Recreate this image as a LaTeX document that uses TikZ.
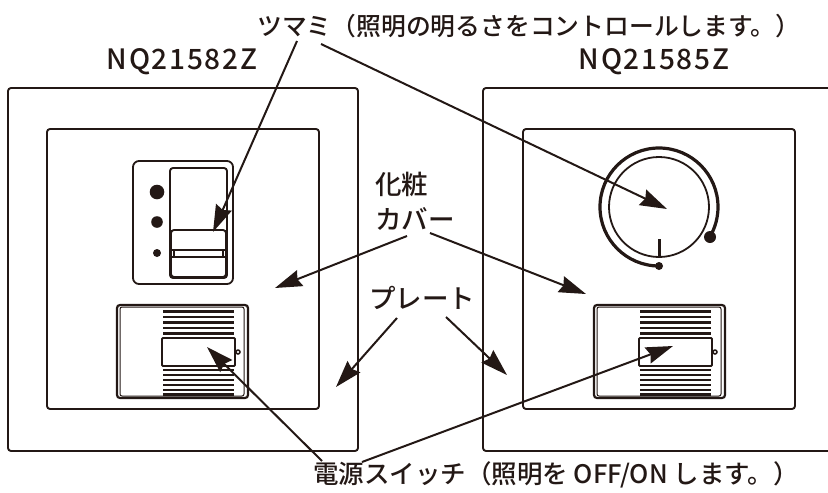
\documentclass[tikz,border=0pt]{standalone}
\usepackage{xcolor}
\usepackage{fontspec}
\usepackage{tikz}
\usetikzlibrary{arrows.meta}
\setmainfont{Noto Sans CJK JP Medium}
\definecolor{inkblack}{HTML}{231815}

\begin{document}
\begin{tikzpicture}[x=1pt, y=-1pt, inkblack,
    outline/.style={draw=inkblack, line width=1.9pt, rounded corners=3pt},
    pointer/.style={draw=inkblack, line width=2pt, -{Stealth[length=27pt, width=17pt, inset=3pt]}},
    callout/.style={inner sep=0pt, text=inkblack, font=\fontsize{26.5}{28}\selectfont},
    model/.style={inner sep=0pt, text=inkblack, font=\fontsize{28}{28}\selectfont\addfontfeatures{LetterSpace=6}}]
    \useasboundingbox (0,0) rectangle (828,493);

    % Plates
    \draw[outline] (8,88) rectangle (358,451);
    \draw[outline] (828,88) -- (483,88) -- (483,451) -- (828,451);
    \draw[outline] (47,129) rectangle (319,409);
    \draw[outline] (523,129) rectangle (795,409);

    % Slider unit
    \draw[outline, line width=1.8pt, rounded corners=6pt] (133,161) rectangle (233,284);
    \draw[outline, rounded corners=3pt] (170,168) rectangle (227,278);
    \draw[outline, rounded corners=3pt] (171,230) rectangle (226,277);
    \fill (157,192) circle (7.3);
    \fill (157,222) circle (5.8);
    \fill (157,253) circle (4);
    \draw[line width=2.6pt] (171,250) -- (226,250);
    \draw[line width=1.5pt] (171,257) -- (226,257);
    \draw[line width=1.5pt] (174,250) -- (174,257);
    \draw[line width=1.5pt] (223,250) -- (223,257);

    % Dial
    \draw[line width=1.8pt] (659,207) circle (50);
    \draw[line width=3.2pt] (659,266) arc[start angle=90, end angle=390, radius=59];
    \draw[line width=3pt] (659,239) -- (659,258);
    \fill (659,266) circle (4);
    \fill (710,237) circle (6);

    % Switches
    \foreach \swx in {0,477} {
        \draw[outline, line width=2.2pt] (117+\swx,305) rectangle (248+\swx,398);
        \draw[line width=1pt, rounded corners=2pt] (120+\swx,307) rectangle (244+\swx,396);
        \foreach \ly in {311.5,317,322.5,328,333.5,370,375,380,385,390,394.5}
            \draw[line width=2.5pt] (163+\swx,\ly) -- (234+\swx,\ly);
        \draw[outline, fill=white, line width=1.9pt, rounded corners=1pt] (162+\swx,338) rectangle (235+\swx,366);
        \draw[line width=1.5pt, fill=white] (238+\swx,352) circle (2);
    }

    % Labels
    \node[callout, anchor=west, font=\fontsize{24.8}{28}\selectfont] (knoblabel) at (257,26) {ツマミ（照明の明るさをコントロールします。）};
    \node[model] (leftmodel) at (182,62) {NQ21582Z};
    \node[model] (rightmodel) at (654,62) {NQ21585Z};
    \node[callout, anchor=west] (coverlabela) at (375,184) {化粧};
    \node[callout, anchor=west] (coverlabelb) at (375,219) {カバー};
    \node[callout, anchor=west] (platelabel) at (369,298) {プレート};
    \node[callout, anchor=west, font=\fontsize{25.5}{28}\selectfont] (switchlabel) at (313,475) {電源スイッチ（照明を OFF/ON します。）};

    % Pointer ends
    \coordinate (knobstarta) at (297,41);
    \coordinate (knobstartb) at (321,44);
    \coordinate (knobtipa) at (213,232);
    \coordinate (knobtipb) at (667,209);
    \coordinate (coverstarta) at (407,236);
    \coordinate (coverstartb) at (430,233);
    \coordinate (covertipa) at (275,288);
    \coordinate (covertipb) at (586,294);
    \coordinate (platestarta) at (397,318);
    \coordinate (platestartb) at (446,317);
    \coordinate (platetipa) at (336,387);
    \coordinate (platetipb) at (507,375);
    \coordinate (switchstarta) at (322,461);
    \coordinate (switchstartb) at (362,462);
    \coordinate (switchtipa) at (207,347);
    \coordinate (switchtipb) at (673,346);

    % Pointers
    \draw[pointer] (knobstarta) -- (knobtipa);
    \draw[pointer] (knobstartb) -- (knobtipb);
    \draw[pointer] (coverstarta) -- (covertipa);
    \draw[pointer] (coverstartb) -- (covertipb);
    \draw[pointer] (platestarta) -- (platetipa);
    \draw[pointer] (platestartb) -- (platetipb);
    \draw[pointer] (switchstarta) -- (switchtipa);
    \draw[pointer] (switchstartb) -- (switchtipb);
\end{tikzpicture}
\end{document}
